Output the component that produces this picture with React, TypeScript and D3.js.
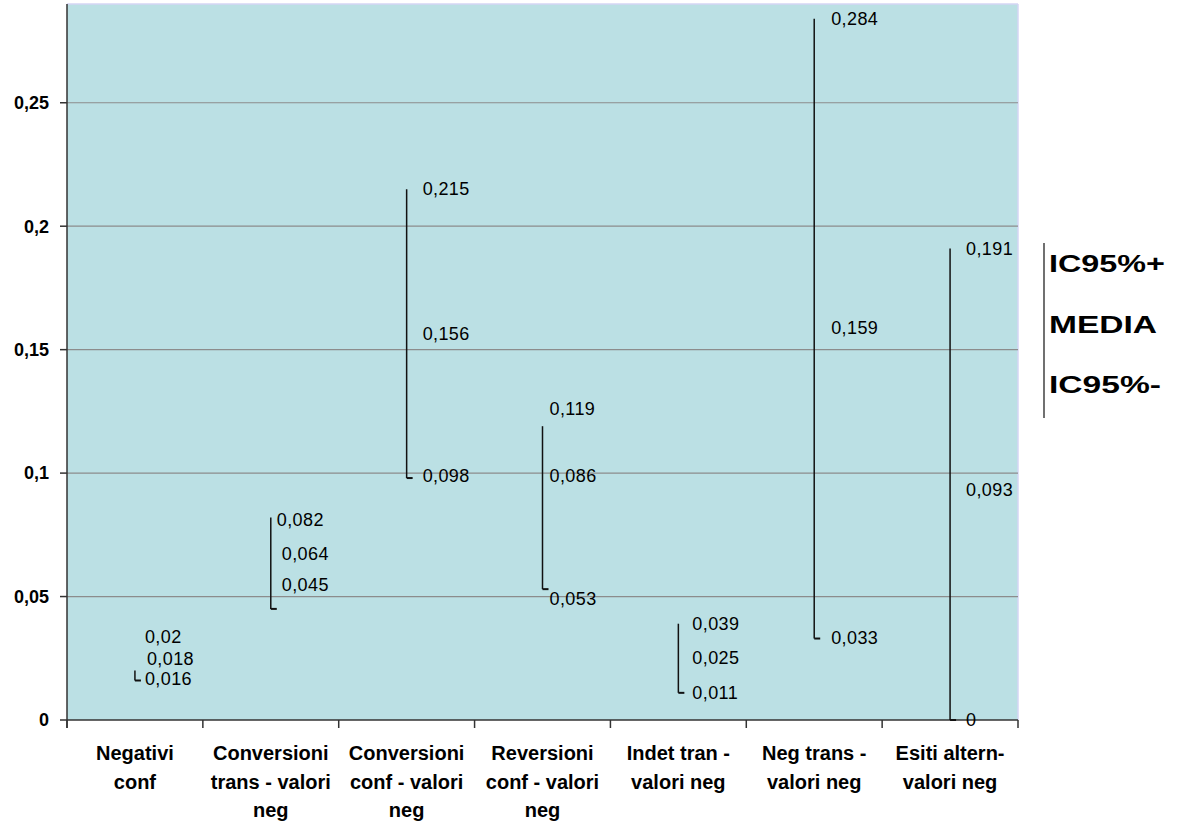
import React from "react";
import * as d3 from "d3";

// Categories (each entry split into its printed lines)
const categories: string[][] = [
  ["Negativi", "conf"],
  ["Conversioni", "trans - valori", "neg"],
  ["Conversioni", "conf - valori", "neg"],
  ["Reversioni", "conf - valori", "neg"],
  ["Indet tran -", "valori neg"],
  ["Neg trans -", "valori neg"],
  ["Esiti altern-", "valori neg"],
];

// IC95%+ / MEDIA / IC95%- per category
const upper = [0.02, 0.082, 0.215, 0.119, 0.039, 0.284, 0.191];
const mean = [0.018, 0.064, 0.156, 0.086, 0.025, 0.159, 0.093];
const lower = [0.016, 0.045, 0.098, 0.053, 0.011, 0.033, 0];

const yTicks = [0, 0.05, 0.1, 0.15, 0.2, 0.25];

const legendItems = ["IC95%+", "MEDIA", "IC95%-"];

// Label nudges [dx from the line, dy from the value] so stacked labels do not collide
const upperNudge = [[10, -34], [6, 2], [16, 0], [7, -17], [14, 0], [17, 0], [16, 0]];
const meanNudge = [[12, -17], [11, -8], [16, -1], [7, -32], [14, -1], [17, 0], [16, -1]];
const lowerNudge = [[10, -2], [11, -24], [16, -2], [7, 10], [14, 0], [17, -1], [16, 0]];

const W = 1180;
const H = 822;
const plot = { left: 67, right: 1018, top: 4, bottom: 720 };
const font = "'Liberation Sans', Arial, sans-serif";

const fmt = (v: number) => String(v).replace(".", ",");

export default function App() {
  const x = d3
    .scaleBand<number>()
    .domain(categories.map((_, i) => i))
    .range([plot.left, plot.right])
    .padding(0);
  const y = d3.scaleLinear().domain([0, 0.29]).range([plot.bottom, plot.top]);
  const cx = (i: number) => (x(i) as number) + x.bandwidth() / 2;
  const boundaries = d3.range(categories.length + 1).map((i) => plot.left + i * x.bandwidth());

  const labelSets: [number[], number[][]][] = [
    [upper, upperNudge],
    [mean, meanNudge],
    [lower, lowerNudge],
  ];

  return (
    <svg
      width={W}
      height={H}
      style={{ position: "absolute", left: 0, top: 0, background: "#ffffff" }}
      fontFamily={font}
    >
      {/* plot area */}
      <rect
        x={plot.left}
        y={plot.top}
        width={plot.right - plot.left}
        height={plot.bottom - plot.top}
        fill="#bbe0e4"
      />
      <line x1={plot.left} x2={plot.right} y1={plot.top} y2={plot.top} stroke="#d4d6f4" strokeWidth={1.5} />
      <line x1={plot.right} x2={plot.right} y1={plot.top} y2={plot.bottom} stroke="#d4d6f4" strokeWidth={1.5} />

      {/* gridlines */}
      {yTicks
        .filter((t) => t > 0)
        .map((t) => (
          <line
            key={"g" + t}
            x1={plot.left}
            x2={plot.right}
            y1={y(t)}
            y2={y(t)}
            stroke="#8c8c8c"
            strokeWidth={1.2}
          />
        ))}

      {/* y axis */}
      <line x1={plot.left} x2={plot.left} y1={plot.top} y2={plot.bottom + 8} stroke="#333" strokeWidth={1.5} />
      {yTicks.map((t) => (
        <g key={"yt" + t}>
          <line x1={plot.left - 7} x2={plot.left} y1={y(t)} y2={y(t)} stroke="#333" strokeWidth={1.5} />
          <text
            x={49}
            y={y(t)}
            dy="0.35em"
            textAnchor="end"
            fontSize={18}
            fontWeight="bold"
            fill="#000"
          >
            {fmt(t)}
          </text>
        </g>
      ))}

      {/* x axis */}
      <line x1={plot.left} x2={plot.right} y1={plot.bottom} y2={plot.bottom} stroke="#333" strokeWidth={1.5} />
      {boundaries.map((bx, i) => (
        <line key={"xt" + i} x1={bx} x2={bx} y1={plot.bottom} y2={plot.bottom + 8} stroke="#333" strokeWidth={1.5} />
      ))}
      {categories.map((lines, i) => (
        <text key={"c" + i} x={cx(i)} textAnchor="middle" fontSize={20} fontWeight="bold" fill="#000">
          {lines.map((ln, j) => (
            <tspan key={j} x={cx(i)} y={760 + j * 28.5}>
              {ln}
            </tspan>
          ))}
        </text>
      ))}

      {/* high-low lines with close tick at the lower bound */}
      {categories.map((_, i) => {
        const hi = Math.max(upper[i], mean[i], lower[i]);
        const lo = Math.min(upper[i], mean[i], lower[i]);
        return (
          <g key={"hl" + i} stroke="#111" strokeWidth={1.5}>
            <line x1={cx(i)} x2={cx(i)} y1={y(hi)} y2={y(lo)} />
            <line x1={cx(i)} x2={cx(i) + 6} y1={y(lower[i])} y2={y(lower[i])} strokeWidth={2} />
          </g>
        );
      })}

      {/* value labels */}
      {labelSets.map(([vals, nudge], s) =>
        vals.map((v, i) => (
          <text
            key={"l" + s + "-" + i}
            x={cx(i) + nudge[i][0]}
            y={y(v) + nudge[i][1]}
            dy="0.35em"
            fontSize={18}
            letterSpacing={0.4}
            fill="#000"
          >
            {fmt(v)}
          </text>
        ))
      )}

      {/* legend */}
      <line x1={1044} x2={1044} y1={243} y2={418} stroke="#111" strokeWidth={1.2} />
      {legendItems.map((t, i) => (
        <text
          key={"lg" + i}
          x={1049}
          y={272 + i * 60.5}
          fontSize={24}
          fontWeight="bold"
          fill="#000"
          textLength={[116, 108, 112][i]}
          lengthAdjust="spacingAndGlyphs"
        >
          {t}
        </text>
      ))}
    </svg>
  );
}
